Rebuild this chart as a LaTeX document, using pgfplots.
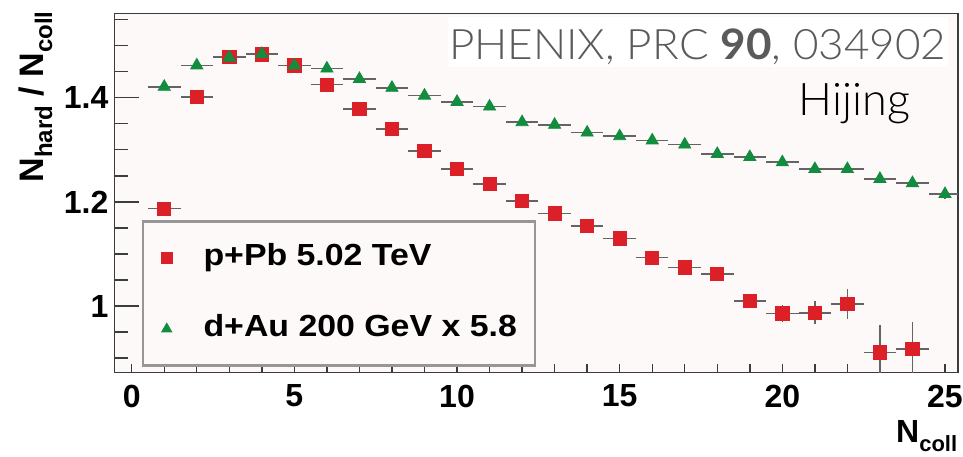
\documentclass[border=0pt]{standalone}
\usepackage{fontspec}
\setmainfont{Liberation Sans}
\newfontfamily\lightfont{Lato}[UprightFont=* Light, BoldFont=* Bold]
\usepackage{graphicx}
\usepackage{pgfplots}
\pgfplotsset{compat=1.18}
\usepackage{pgfplotstable}

\definecolor{padbg}{RGB}{253,249,249}
\definecolor{framegray}{RGB}{60,60,60}
\definecolor{ppbred}{RGB}{220,32,40}
\definecolor{daugreen}{RGB}{18,140,62}
\definecolor{errgray}{RGB}{100,100,100}
\definecolor{leggray}{RGB}{150,150,150}
\definecolor{refgray}{RGB}{90,90,90}

% wide bold face used in the legend
\newcommand\wide[1]{\scalebox{1.11}[1]{#1}}

% p+Pb 5.02 TeV: N_coll, N_hard/N_coll, bin half-width, stat. error
\pgfplotstableread{
x y ex ey
1 1.187 0.5 0.003
2 1.401 0.5 0.003
3 1.478 0.5 0.003
4 1.483 0.5 0.003
5 1.462 0.5 0.003
6 1.425 0.5 0.003
7 1.378 0.5 0.003
8 1.340 0.5 0.003
9 1.298 0.5 0.004
10 1.263 0.5 0.004
11 1.234 0.5 0.004
12 1.202 0.5 0.005
13 1.178 0.5 0.005
14 1.154 0.5 0.005
15 1.130 0.5 0.006
16 1.093 0.5 0.006
17 1.074 0.5 0.007
18 1.062 0.5 0.008
19 1.010 0.5 0.011
20 0.986 0.5 0.016
21 0.987 0.5 0.022
22 1.004 0.5 0.028
23 0.911 0.5 0.052
24 0.917 0.5 0.053
}\ppb

% d+Au 200 GeV (scaled by 5.8)
\pgfplotstableread{
x y ex ey
1 1.421 0.5 0.002
2 1.462 0.5 0.002
3 1.477 0.5 0.002
4 1.484 0.5 0.002
5 1.462 0.5 0.002
6 1.456 0.5 0.002
7 1.436 0.5 0.002
8 1.419 0.5 0.002
9 1.404 0.5 0.002
10 1.392 0.5 0.002
11 1.383 0.5 0.003
12 1.353 0.5 0.003
13 1.348 0.5 0.003
14 1.333 0.5 0.003
15 1.326 0.5 0.003
16 1.318 0.5 0.004
17 1.310 0.5 0.004
18 1.292 0.5 0.004
19 1.286 0.5 0.005
20 1.276 0.5 0.005
21 1.263 0.5 0.006
22 1.263 0.5 0.006
23 1.244 0.5 0.007
24 1.236 0.5 0.007
25 1.215 0.5 0.009
}\dau

\pgfplotsset{
  panel/.style={
    at={(114.5pt,84.3pt)}, anchor=south west,
    scale only axis, width=843.5pt, height=359pt,
    xmin=-0.529, xmax=25.4, ymin=0.872, ymax=1.5613,
    tick align=inside,
    tick style={draw=framegray, line width=1.4pt},
  },
  hbars/.style={
    forget plot, draw=none, mark=none,
    error bars/x dir=both, error bars/x explicit,
    error bars/y dir=both, error bars/y explicit,
    error bars/error mark=none,
    error bars/error bar style={draw=errgray, line width=1.6pt},
  },
}

\begin{document}
\begin{tikzpicture}
\useasboundingbox (0pt,0pt) rectangle (963pt,457pt);

% main frame, data and x ticks
\begin{axis}[panel,
  axis background/.style={fill=padbg},
  axis line style={draw=framegray, line width=1.6pt},
  xtick={0,5,10,15,20,25}, xticklabels={0,5,10,15,20,25},
  minor x tick num=4,
  ytick=\empty,
  xtick pos=bottom,
  major tick length=9pt, minor tick length=9pt,
  xticklabel style={font=\bfseries\fontsize{32}{32}\selectfont, inner sep=0pt, yshift=-12pt},
  legend cell align=left,
  legend style={at={(0.03225,0.4253)}, anchor=north west,
    fill=padbg, draw=leggray, line width=2.5pt,
    inner xsep=18pt, inner ysep=21.7pt,
    column sep=31pt, row sep=41pt,
    font=\bfseries\fontsize{30.5}{30.5}\selectfont,
    nodes={inner sep=0pt, text height=23pt, text depth=7pt}},
  legend image code/.code={\draw[#1] plot coordinates {(0pt,0pt)};},
  every legend image post/.append style={mark size=5.8pt},
]
\addplot[hbars] table[x=x, y=y, x error=ex, y error=ey] {\ppb};
\addplot[hbars] table[x=x, y=y, x error=ex, y error=ey] {\dau};
\addplot[only marks, mark=square*, mark size=6.6pt,
  mark options={draw=ppbred, fill=ppbred, line width=0.8pt}]
  table[x=x, y=y] {\ppb};
\addlegendentry{\wide{p+Pb 5.02 TeV}}
\addplot[only marks, mark=triangle*, mark size=7pt,
  mark options={draw=daugreen, fill=daugreen, line width=0.8pt}]
  table[x=x, y=y] {\dau};
\addlegendentry{\wide{d+Au 200 GeV x 5.8}}
\end{axis}

% y ticks (longer than the x ticks)
\begin{axis}[panel,
  axis line style={draw=none},
  xtick=\empty,
  ytick={1,1.2,1.4}, yticklabels={1,1.2,1.4},
  minor ytick={0.9,0.95,1.05,1.1,1.15,1.25,1.3,1.35,1.45,1.5,1.55},
  ytick pos=left,
  major tick length=25pt, minor tick length=13pt,
  yticklabel style={font=\bfseries\fontsize{32}{32}\selectfont, inner sep=0pt, xshift=-6pt},
]
\end{axis}

% reference tag and generator name
\fill[white] (448.3pt,440.3pt) rectangle (948.3pt,390.3pt);
\node[anchor=base east, inner sep=0pt, text=refgray,
  font=\lightfont\fontsize{42}{42}\selectfont]
  at (946.7pt,397.7pt) {\scalebox{1.048}[1]{PHENIX, PRC \textbf{90}, 034902}};
\node[anchor=base west, inner sep=0pt, text=black,
  font=\lightfont\fontsize{45}{45}\selectfont]
  at (798.3pt,341.3pt) {Hijing};

% axis titles
\node[rotate=90, anchor=base, inner sep=0pt,
  font=\bfseries\fontsize{34}{34}\selectfont]
  at (43pt,360pt)
  {N\raisebox{-9pt}{\fontsize{24}{24}\selectfont hard}\ / N\raisebox{-9pt}{\fontsize{24}{24}\selectfont coll}};
\node[anchor=base west, inner sep=0pt,
  font=\bfseries\fontsize{32}{32}\selectfont]
  at (896pt,14pt)
  {N\raisebox{-9pt}{\fontsize{22}{22}\selectfont coll}};
\end{tikzpicture}
\end{document}
